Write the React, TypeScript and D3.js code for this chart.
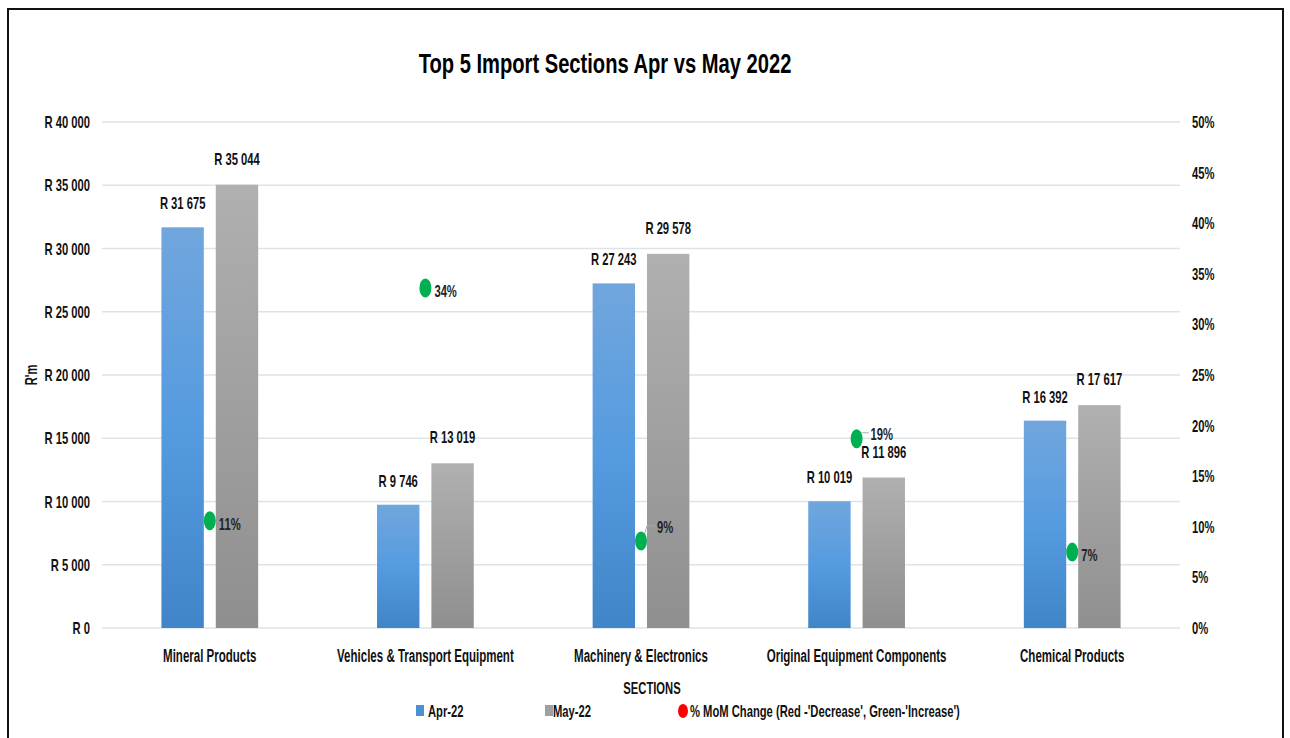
import React from "react";
import * as d3 from "d3";

const categories = [
  "Mineral Products",
  "Vehicles & Transport Equipment",
  "Machinery & Electronics",
  "Original Equipment Components",
  "Chemical Products",
];
const apr22 = [31675, 9746, 27243, 10019, 16392];
const may22 = [35044, 13019, 29578, 11896, 17617];
const momChange = [10.6, 33.6, 8.6, 18.7, 7.5];
const momLabels = ["11%", "34%", "9%", "19%", "7%"];
const leftTicks = [0, 5000, 10000, 15000, 20000, 25000, 30000, 35000, 40000];
const rightTicks = [0, 5, 10, 15, 20, 25, 30, 35, 40, 45, 50];

const W = 1290;
const H = 738;
const FONT = "'Liberation Sans', Arial, sans-serif";
const SX = 0.66;

const fmtR = (v: number) => "R " + d3.format(",")(v).replace(/,/g, " ");

function T(props: {
  x: number;
  y: number;
  size?: number;
  anchor?: "start" | "middle" | "end";
  sx?: number;
  fill?: string;
  weight?: string;
  rotate?: number;
  children: React.ReactNode;
}) {
  const { x, y, size = 17, anchor = "start", sx = SX, fill = "#111", weight = "bold", rotate = 0 } = props;
  return (
    <text
      transform={`translate(${x},${y}) rotate(${rotate}) scale(${sx},1)`}
      textAnchor={anchor}
      fontSize={size}
      fontWeight={weight}
      fill={fill}
    >
      {props.children}
    </text>
  );
}

export default function App() {
  const left = 102;
  const right = 1180;
  const top = 122;
  const bottom = 628;

  const x = d3.scaleBand<string>().domain(categories).range([left, right]);
  const sub = d3.scaleBand<string>().domain(["apr", "may"]).range([-50, 50]).paddingInner(0.22).paddingOuter(0.03);
  const y = d3.scaleLinear().domain([0, 40000]).range([bottom, top]);
  const y2 = d3.scaleLinear().domain([0, 50]).range([bottom, top]);

  const labelOff: Record<number, { dx: number; dy: number; leader?: boolean }> = {
    2: { dx: 16, dy: -14, leader: true },
    3: { dx: 14, dy: -5, leader: true },
  };

  return (
    <svg
      width={W}
      height={H}
      style={{ position: "fixed", left: 0, top: 0, background: "#fff" }}
      fontFamily={FONT}
    >
      <defs>
        <linearGradient id="gBlue" x1="0" y1="0" x2="0" y2="1">
          <stop offset="0" stopColor="#71a6dd" />
          <stop offset="0.5" stopColor="#559be0" />
          <stop offset="1" stopColor="#3f85c7" />
        </linearGradient>
        <linearGradient id="gGrey" x1="0" y1="0" x2="0" y2="1">
          <stop offset="0" stopColor="#b0b0b0" />
          <stop offset="1" stopColor="#8f8f8f" />
        </linearGradient>
      </defs>
      <rect x={0} y={0} width={W} height={H} fill="#fff" />
      <rect x={8} y={9} width={1275} height={740} fill="none" stroke="#111" strokeWidth={2} />

      <T x={605} y={73} size={28} anchor="middle" sx={0.72} fill="#000">
        Top 5 Import Sections Apr vs May 2022
      </T>

      {leftTicks.map((t) => (
        <g key={t}>
          <line x1={left} x2={right} y1={y(t)} y2={y(t)} stroke="#dde3eb" strokeWidth={1.5} />
          <T x={90} y={y(t) + 6} anchor="end">
            {fmtR(t)}
          </T>
        </g>
      ))}
      {rightTicks.map((t) => (
        <T key={t} x={1192} y={y2(t) + 6}>
          {t}%
        </T>
      ))}

      <T x={37} y={375} anchor="middle" rotate={-90}>
        R'm
      </T>

      {categories.map((c, i) => {
        const cx = x(c)! + x.bandwidth() / 2;
        const xa = cx + sub("apr")!;
        const xm = cx + sub("may")!;
        const bw = sub.bandwidth();
        return (
          <g key={c}>
            <rect x={xa} y={y(apr22[i])} width={bw} height={y(0) - y(apr22[i])} fill="url(#gBlue)" />
            <rect x={xm} y={y(may22[i])} width={bw} height={y(0) - y(may22[i])} fill="url(#gGrey)" />
            <T x={xa + bw / 2} y={y(apr22[i]) - 18} anchor="middle">
              {fmtR(apr22[i])}
            </T>
            <T x={xm + bw / 2} y={y(may22[i]) - 20} anchor="middle">
              {fmtR(may22[i])}
            </T>
            <T x={cx} y={662} anchor="middle" size={18} sx={0.64}>
              {c}
            </T>
          </g>
        );
      })}

      {categories.map((c, i) => {
        const cx = x(c)! + x.bandwidth() / 2;
        const cy = y2(momChange[i]);
        const off = labelOff[i] || { dx: 9, dy: 3 };
        return (
          <g key={"m" + c}>
            {off.leader && (
              <polyline
                points={`${cx + 3},${cy - 5} ${cx + 6},${cy + off.dy - 1} ${cx + off.dx - 2},${cy + off.dy - 1}`}
                fill="none"
                stroke="#a6acb3"
                strokeWidth={1}
              />
            )}
            <ellipse cx={cx} cy={cy} rx={6} ry={9.5} fill="#00b050" />
            <T x={cx + off.dx} y={cy + off.dy + 6} fill="#222">
              {momLabels[i]}
            </T>
          </g>
        );
      })}

      <T x={652} y={694} anchor="middle">
        SECTIONS
      </T>

      <rect x={416} y={705} width={8} height={11} fill="#4a90d6" />
      <T x={428} y={717}>Apr-22</T>
      <rect x={545} y={705} width={8} height={11} fill="#a0a0a0" />
      <T x={553} y={717}>May-22</T>
      <ellipse cx={683} cy={711} rx={5} ry={7} fill="#ff0000" />
      <T x={690} y={717}>% MoM Change (Red -'Decrease', Green-'Increase')</T>
    </svg>
  );
}
